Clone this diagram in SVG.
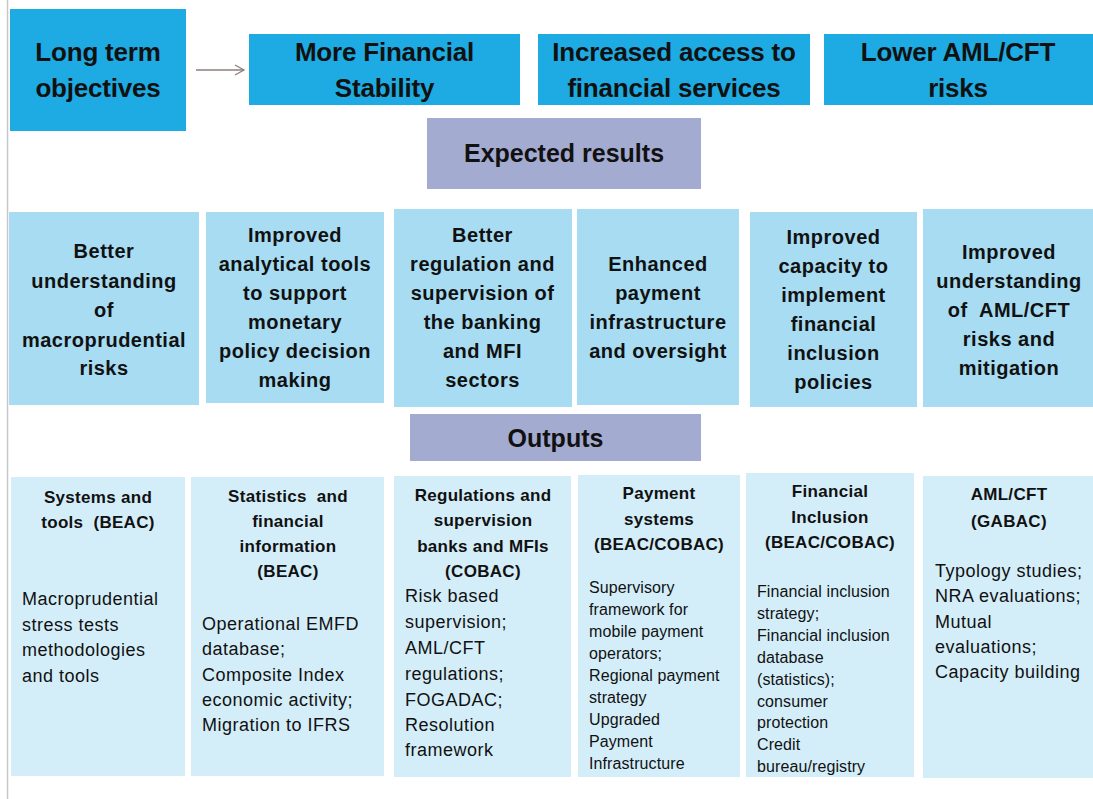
<svg xmlns="http://www.w3.org/2000/svg" width="1093" height="799" viewBox="0 0 1093 799">
<style>
.top{fill:#1eaae2}
.pur{fill:#a3abd0}
.res{fill:#a7dcf3}
.out{fill:#d4eef9}
text{font-family:"Liberation Sans",Arial,sans-serif;fill:#111}
.pre{white-space:pre}
.t1{font-size:26px;font-weight:bold;text-anchor:middle;letter-spacing:-0.2px}
.t2{font-size:25px;font-weight:bold;text-anchor:middle}
.t3{font-size:20px;font-weight:bold;text-anchor:middle;letter-spacing:0.5px}
.h{font-size:17px;font-weight:bold;text-anchor:middle;letter-spacing:0.3px}
.b{font-size:18px;letter-spacing:0.5px}
.s{font-size:16px;letter-spacing:0.1px}
</style>
<defs>
<marker id="arr" markerWidth="12" markerHeight="12" refX="10" refY="6" orient="auto" markerUnits="userSpaceOnUse">
<path d="M1,1 L10,6 L1,11" fill="none" stroke="#8c7f7c" stroke-width="1.3"/>
</marker>
</defs>
<rect width="1093" height="799" fill="#fff"/>
<line x1="7.5" y1="0" x2="7.5" y2="799" stroke="#c8c8c8" stroke-width="1.5"/>

<g id="n-longterm"><rect class="top" x="10" y="9" width="176" height="122"/>
<text class="t1" x="98" y="61">Long term</text><text class="t1" x="98" y="97">objectives</text></g>
<g id="n-stability"><rect class="top" x="249" y="34" width="271" height="71"/>
<text class="t1" x="384.5" y="61">More Financial</text><text class="t1" x="384.5" y="97">Stability</text></g>
<g id="n-access"><rect class="top" x="538" y="34" width="272" height="71"/>
<text class="t1" x="674" y="61">Increased access to</text><text class="t1" x="674" y="97">financial services</text></g>
<g id="n-aml"><rect class="top" x="824" y="34" width="269" height="71"/>
<text class="t1" x="958" y="61">Lower AML/CFT</text><text class="t1" x="958" y="97">risks</text></g>

<g id="n-expected"><rect class="pur" x="427" y="118" width="274" height="71"/>
<text class="t2" x="564" y="162">Expected results</text></g>

<g id="r1"><rect class="res" x="9" y="212" width="190" height="193"/>
<text class="t3" x="104"><tspan x="104" y="258">Better</tspan><tspan x="104" y="288">understanding</tspan><tspan x="104" y="317">of</tspan><tspan x="104" y="347">macroprudential</tspan><tspan x="104" y="375">risks</tspan></text></g>
<g id="r2"><rect class="res" x="206" y="212" width="178" height="191"/>
<text class="t3" x="295"><tspan x="295" y="242">Improved</tspan><tspan x="295" y="271">analytical tools</tspan><tspan x="295" y="300">to support</tspan><tspan x="295" y="329">monetary</tspan><tspan x="295" y="358">policy decision</tspan><tspan x="295" y="387">making</tspan></text></g>
<g id="r3"><rect class="res" x="394" y="209" width="178" height="198"/>
<text class="t3" x="482.5"><tspan x="482.5" y="242">Better</tspan><tspan x="482.5" y="271">regulation and</tspan><tspan x="482.5" y="300">supervision of</tspan><tspan x="482.5" y="329">the banking</tspan><tspan x="482.5" y="358">and MFI</tspan><tspan x="482.5" y="387">sectors</tspan></text></g>
<g id="r4"><rect class="res" x="577" y="209" width="162" height="196"/>
<text class="t3" x="658"><tspan x="658" y="271">Enhanced</tspan><tspan x="658" y="300">payment</tspan><tspan x="658" y="329">infrastructure</tspan><tspan x="658" y="358">and oversight</tspan></text></g>
<g id="r5"><rect class="res" x="750" y="212" width="167" height="195"/>
<text class="t3" x="833.5"><tspan x="833.5" y="244">Improved</tspan><tspan x="833.5" y="273">capacity to</tspan><tspan x="833.5" y="302">implement</tspan><tspan x="833.5" y="331">financial</tspan><tspan x="833.5" y="360">inclusion</tspan><tspan x="833.5" y="389">policies</tspan></text></g>
<g id="r6"><rect class="res" x="923" y="209" width="170" height="198"/>
<text class="t3 pre" x="1009"><tspan x="1009" y="259">Improved</tspan><tspan x="1009" y="288">understanding</tspan><tspan x="1009" y="317">of  AML/CFT</tspan><tspan x="1009" y="346">risks and</tspan><tspan x="1009" y="375">mitigation</tspan></text></g>

<g id="n-outputs"><rect class="pur" x="410" y="414" width="291" height="47"/>
<text class="t2" x="555.5" y="447">Outputs</text></g>

<g id="o1"><rect class="out" x="11" y="477" width="174" height="299"/>
<text class="h pre" x="98"><tspan x="98" y="503">Systems and</tspan><tspan x="98" y="528">tools  (BEAC)</tspan></text>
<text class="b" x="22"><tspan x="22" y="605">Macroprudential</tspan><tspan x="22" y="631">stress tests</tspan><tspan x="22" y="656">methodologies</tspan><tspan x="22" y="682">and tools</tspan></text></g>
<g id="o2"><rect class="out" x="191" y="477" width="193" height="299"/>
<text class="h pre" x="288"><tspan x="288" y="502">Statistics  and</tspan><tspan x="288" y="527">financial</tspan><tspan x="288" y="552">information</tspan><tspan x="288" y="577">(BEAC)</tspan></text>
<text class="b" x="202"><tspan x="202" y="630">Operational EMFD</tspan><tspan x="202" y="655">database;</tspan><tspan x="202" y="681">Composite Index</tspan><tspan x="202" y="706">economic activity;</tspan><tspan x="202" y="731">Migration to IFRS</tspan></text></g>
<g id="o3"><rect class="out" x="394" y="476" width="177" height="301"/>
<text class="h" x="483"><tspan x="483" y="501">Regulations and</tspan><tspan x="483" y="526">supervision</tspan><tspan x="483" y="552">banks and MFIs</tspan><tspan x="483" y="577">(COBAC)</tspan></text>
<text class="b" x="405"><tspan x="405" y="602">Risk based</tspan><tspan x="405" y="628">supervision;</tspan><tspan x="405" y="654">AML/CFT</tspan><tspan x="405" y="680">regulations;</tspan><tspan x="405" y="706">FOGADAC;</tspan><tspan x="405" y="731">Resolution</tspan><tspan x="405" y="756">framework</tspan></text></g>
<g id="o4"><rect class="out" x="578" y="475" width="162" height="302"/>
<text class="h" x="659"><tspan x="659" y="499">Payment</tspan><tspan x="659" y="525">systems</tspan><tspan x="659" y="550">(BEAC/COBAC)</tspan></text>
<text class="s" x="589"><tspan x="589" y="593">Supervisory</tspan><tspan x="589" y="615">framework for</tspan><tspan x="589" y="637">mobile payment</tspan><tspan x="589" y="659">operators;</tspan><tspan x="589" y="681">Regional payment</tspan><tspan x="589" y="703">strategy</tspan><tspan x="589" y="725">Upgraded</tspan><tspan x="589" y="747">Payment</tspan><tspan x="589" y="769">Infrastructure</tspan></text></g>
<g id="o5"><rect class="out" x="746" y="473" width="168" height="304"/>
<text class="h" x="830"><tspan x="830" y="497">Financial</tspan><tspan x="830" y="523">Inclusion</tspan><tspan x="830" y="548">(BEAC/COBAC)</tspan></text>
<text class="s" x="757"><tspan x="757" y="597">Financial inclusion</tspan><tspan x="757" y="619">strategy;</tspan><tspan x="757" y="641">Financial inclusion</tspan><tspan x="757" y="663">database</tspan><tspan x="757" y="685">(statistics);</tspan><tspan x="757" y="707">consumer</tspan><tspan x="757" y="728">protection</tspan><tspan x="757" y="750">Credit</tspan><tspan x="757" y="772">bureau/registry</tspan></text></g>
<g id="o6"><rect class="out" x="923" y="476" width="170" height="302"/>
<text class="h" x="1009"><tspan x="1009" y="500">AML/CFT</tspan><tspan x="1009" y="527">(GABAC)</tspan></text>
<text class="b" x="935"><tspan x="935" y="577">Typology studies;</tspan><tspan x="935" y="602">NRA evaluations;</tspan><tspan x="935" y="628">Mutual</tspan><tspan x="935" y="653">evaluations;</tspan><tspan x="935" y="678">Capacity building</tspan></text></g>

<g id="connectors">
<line x1="196" y1="70" x2="244" y2="70" stroke="#8c7f7c" stroke-width="1.3" marker-end="url(#arr)"/>
</g>
</svg>
